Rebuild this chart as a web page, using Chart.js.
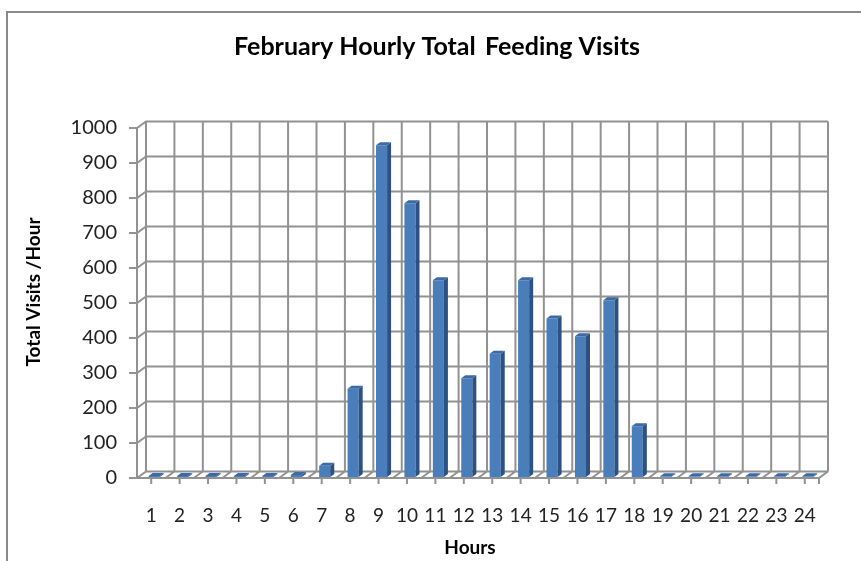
<!DOCTYPE html>
<html>
<head>
<meta charset="utf-8">
<script src="https://cdn.jsdelivr.net/npm/chart.js@4.4.1/dist/chart.umd.min.js"></script>
<style>
    body { margin: 0; background: #fff; }
    canvas { display: block; }
</style>
</head>
<body>
<canvas id="feedingChart" width="861" height="561"></canvas>
<script>
const hours = ['1', '2', '3', '4', '5', '6', '7', '8', '9', '10', '11', '12',
               '13', '14', '15', '16', '17', '18', '19', '20', '21', '22', '23', '24'];
const visits = [3, 3, 3, 3, 3, 6, 32, 252, 948, 782, 562, 282,
                352, 562, 453, 402, 505, 145, 2, 2, 2, 2, 2, 2];
const yMin = 0;
const yMax = 1000;
const yStep = 100;

const chartTitle = 'February Hourly Total\u2009 Feeding Visits';
const yTitle = 'Total Visits /Hour';
const xTitle = 'Hours';

// depth of the 3d wall (front plane -> back wall)
const DX = 9, DY = -6.5;
const GRID = '#929292';
const FONT = 'Lato, "Open Sans", sans-serif';

const wallPlugin = {
    id: 'wall',
    beforeDatasetsDraw(chart) {
        const { ctx, chartArea: a, scales: { x, y } } = chart;
        const n = hours.length;
        const step = (a.right - a.left) / n;
        ctx.save();
        ctx.strokeStyle = GRID;
        ctx.lineWidth = 2;
        ctx.beginPath();
        for (let v = yMin; v <= yMax; v += yStep) {
            const py = y.getPixelForValue(v);
            ctx.moveTo(a.left - 8, py);
            ctx.lineTo(a.left, py);
            ctx.lineTo(a.left + DX, py + DY);
            ctx.lineTo(a.right + DX, py + DY);
        }
        for (let i = 0; i <= n; i++) {
            const px = x.getPixelForTick(Math.min(i, n - 1)) + (i < n ? -step / 2 : step / 2);
            ctx.moveTo(px + DX, a.top + DY);
            ctx.lineTo(px + DX, a.bottom + DY);
            // floor dividers
            ctx.moveTo(px, a.bottom);
            ctx.lineTo(px + DX, a.bottom + DY);
        }
        ctx.moveTo(a.left, a.top);
        ctx.lineTo(a.left, a.bottom);
        ctx.lineTo(a.right, a.bottom);
        ctx.lineTo(a.right + DX, a.bottom + DY);
        for (let i = 0; i < n; i++) {
            const px = x.getPixelForTick(i);
            ctx.moveTo(px, a.bottom);
            ctx.lineTo(px, a.bottom + 6);
        }
        ctx.moveTo(a.right, a.bottom);
        ctx.lineTo(a.right, a.bottom + 6);
        ctx.stroke();
        ctx.restore();

        // bars sit a little behind the front plane
        ctx.save();
        ctx.translate(3, -1);
    },
    afterDatasetsDraw(chart) {
        const { ctx } = chart;
        const meta = chart.getDatasetMeta(0);
        meta.data.forEach(bar => {
            const { x, y, base, width } = bar.getProps(['x', 'y', 'base', 'width'], true);
            const l = x - width / 2, r = x + width / 2;
            ctx.fillStyle = '#2d5282';
            ctx.beginPath();
            ctx.moveTo(r, y);
            ctx.lineTo(r + 4, y - 3);
            ctx.lineTo(r + 4, base - 3);
            ctx.lineTo(r, base);
            ctx.closePath();
            ctx.fill();
            ctx.fillStyle = '#3b6aa6';
            ctx.beginPath();
            ctx.moveTo(l, y);
            ctx.lineTo(l + 4, y - 3);
            ctx.lineTo(r + 4, y - 3);
            ctx.lineTo(r, y);
            ctx.closePath();
            ctx.fill();
        });
        ctx.restore();
    },
    afterDraw(chart) {
        const { ctx } = chart;
        ctx.save();
        // outer frame (runs off the picture on the right and bottom)
        ctx.strokeStyle = '#8a8a8a';
        ctx.lineWidth = 2;
        ctx.beginPath();
        ctx.moveTo(7, 561);
        ctx.lineTo(7, 12);
        ctx.lineTo(861, 12);
        ctx.stroke();

        ctx.fillStyle = '#000';
        ctx.textAlign = 'center';
        ctx.textBaseline = 'middle';
        ctx.font = 'bold 25px ' + FONT;
        ctx.fillText(chartTitle, 437, 47);
        ctx.font = 'bold 19px ' + FONT;
        ctx.fillText(xTitle, 470, 548);
        ctx.translate(34, 292);
        ctx.rotate(-Math.PI / 2);
        ctx.fillText(yTitle, 0, 0);
        ctx.restore();
    }
};

new Chart(document.getElementById('feedingChart'), {
    type: 'bar',
    data: {
        labels: hours,
        datasets: [{
            data: visits,
            backgroundColor: '#4a7ebb',
            borderWidth: 0,
            categoryPercentage: 1,
            barPercentage: 0.39
        }]
    },
    options: {
        responsive: false,
        devicePixelRatio: 1,
        animation: false,
        layout: { padding: { top: 128, right: 42, left: 0, bottom: 0 } },
        plugins: { legend: { display: false }, tooltip: { enabled: false } },
        scales: {
            x: {
                grid: { display: false, drawTicks: false },
                border: { display: false },
                ticks: { color: '#222', font: { size: 19, family: FONT }, padding: 26, maxRotation: 0, autoSkip: false },
                afterFit: (scale) => { scale.height = 83; }
            },
            y: {
                min: yMin,
                max: yMax,
                grid: { display: false, drawTicks: false },
                border: { display: false },
                ticks: {
                    stepSize: yStep,
                    color: '#222',
                    font: { size: 20, family: FONT },
                    padding: 20,
                    callback: (value) => String(value)
                },
                afterFit: (scale) => { scale.width = 137; }
            }
        }
    },
    plugins: [wallPlugin]
});
</script>
</body>
</html>
